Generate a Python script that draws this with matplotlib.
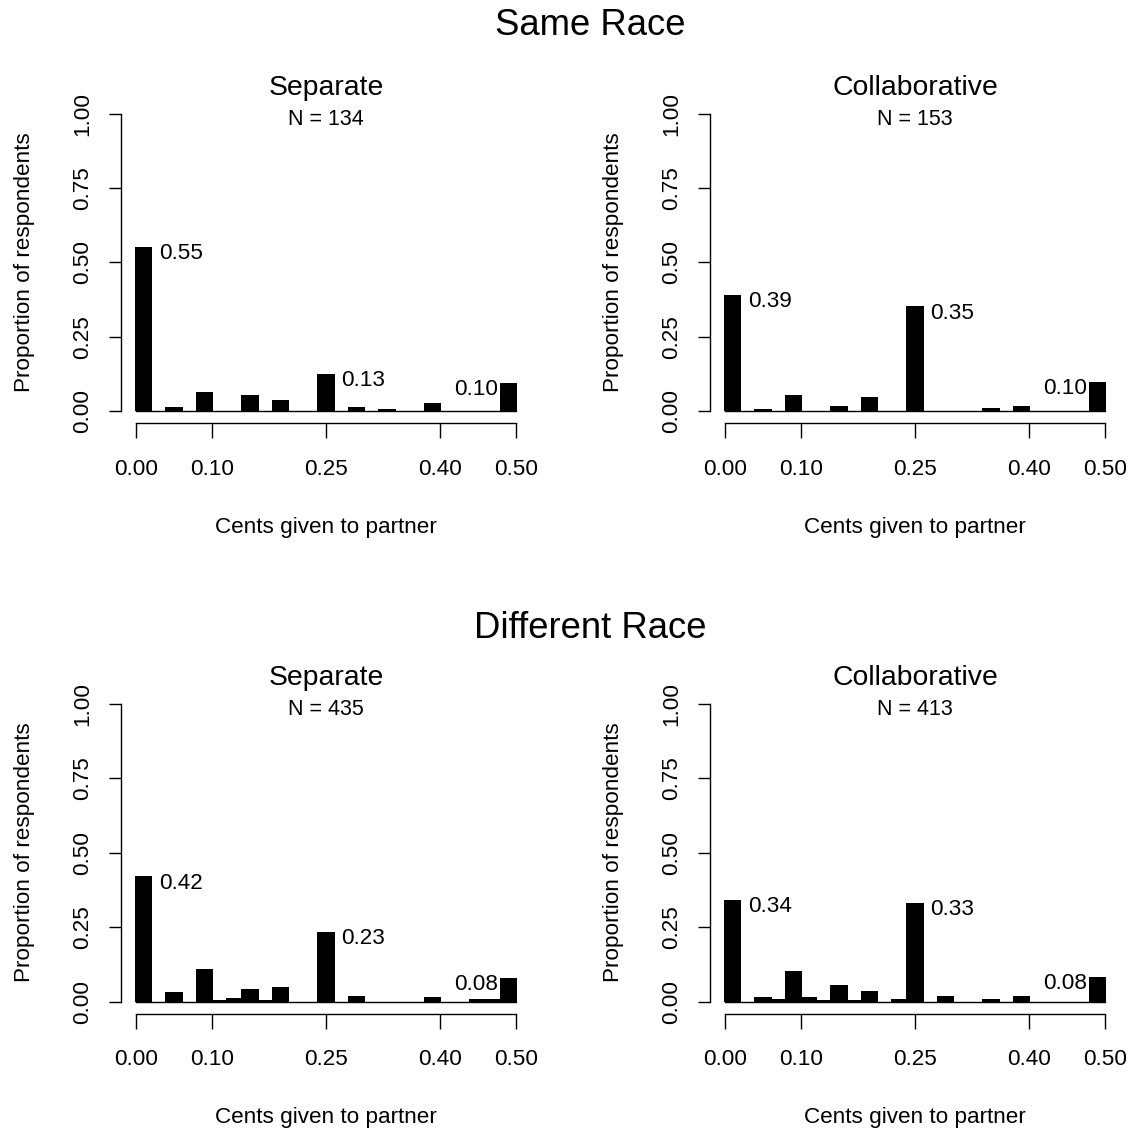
import matplotlib.pyplot as plt

plt.rcParams.update({
    "font.family": ["Liberation Sans", "DejaVu Sans"],
    "font.size": 16.2,
    "axes.linewidth": 1.0,
})

# --- data (cents given -> proportion of respondents) ---
same_sep_x = [0.01, 0.05, 0.09, 0.15, 0.19, 0.25, 0.29, 0.33, 0.39, 0.49]
same_sep_p = [0.552, 0.015, 0.067, 0.056, 0.037, 0.127, 0.015, 0.008, 0.030, 0.097]

same_col_x = [0.01, 0.05, 0.09, 0.15, 0.19, 0.25, 0.35, 0.39, 0.49]
same_col_p = [0.390, 0.007, 0.055, 0.020, 0.050, 0.353, 0.013, 0.020, 0.098]

diff_sep_x = [0.01, 0.05, 0.09, 0.11, 0.13, 0.15, 0.17, 0.19, 0.25, 0.29, 0.39, 0.45, 0.47, 0.49]
diff_sep_p = [0.420, 0.031, 0.108, 0.006, 0.013, 0.042, 0.006, 0.048, 0.234, 0.019, 0.015, 0.007, 0.007, 0.080]

diff_col_x = [0.01, 0.05, 0.07, 0.09, 0.11, 0.13, 0.15, 0.17, 0.19, 0.23, 0.25, 0.29, 0.35, 0.39, 0.49]
diff_col_p = [0.340, 0.015, 0.007, 0.103, 0.014, 0.006, 0.054, 0.006, 0.036, 0.007, 0.330, 0.019, 0.007, 0.019, 0.084]

panel_titles = ["Separate", "Collaborative", "Separate", "Collaborative"]
panel_n = [134, 153, 435, 413]
row_titles = ["Same Race", "Different Race"]

x_ticks = [0.0, 0.10, 0.25, 0.40, 0.50]
y_ticks = [0.0, 0.25, 0.50, 0.75, 1.00]

W, H = 1131, 1134
fig = plt.figure(figsize=(W / 100, H / 100), dpi=100)

# plot regions in pixels (left, right, top, bottom)
cols = [(120.8, 531.2), (709.8, 1120.2)]
rows = [(101.6, 423.4), (691.7, 1013.5)]

panels = [(same_sep_x, same_sep_p), (same_col_x, same_col_p),
          (diff_sep_x, diff_sep_p), (diff_col_x, diff_col_p)]

for i, (xs, ps) in enumerate(panels):
    l, r = cols[i % 2]
    t, b = rows[i // 2]
    ax = fig.add_axes([l / W, 1 - b / H, (r - l) / W, (b - t) / H])

    ax.bar(xs, ps, width=0.023, color="black", linewidth=0)
    ax.plot([0, 0.5], [0, 0], color="black", lw=1.0)

    ax.set_xlim(-0.02, 0.52)
    ax.set_ylim(-0.04, 1.04)
    for s in ["top", "right"]:
        ax.spines[s].set_visible(False)
    ax.spines["left"].set_bounds(0, 1)
    ax.spines["bottom"].set_bounds(0, 0.5)

    ax.set_xticks(x_ticks)
    ax.set_xticklabels([f"{v:.2f}" for v in x_ticks])
    ax.set_yticks(y_ticks)
    ax.set_yticklabels([f"{v:.2f}" for v in y_ticks], rotation=90, va="center")
    ax.tick_params(axis="x", length=11, width=1.0, pad=14.5)
    ax.tick_params(axis="y", length=9, width=1.0, pad=11)

    ax.set_xlabel("Cents given to partner", labelpad=27)
    ax.set_ylabel("Proportion of respondents")
    ax.yaxis.set_label_coords(-0.21, 0.5)

    ax.set_title(panel_titles[i], fontsize=20.4, y=1.02, pad=0)
    ax.text(0.5, 0.927, f"N = {panel_n[i]}", transform=ax.transAxes,
            ha="center", va="baseline", fontsize=15.5)

    # value labels on first bar, the 0.25 bar and the last bar
    for xv, pv in zip(xs, ps):
        if xv in (0.01, 0.25):
            ax.text(xv + 0.0205, pv - 0.041, f"{pv:.2f}", ha="left", va="baseline")
        elif xv == 0.49:
            ax.text(xv - 0.0135, pv - 0.041, f"{pv:.2f}", ha="right", va="baseline")

fig.text(590.7 / W, 1 - 35 / H, row_titles[0], ha="center", va="baseline", fontsize=26.3)
fig.text(590.7 / W, 1 - 638.5 / H, row_titles[1], ha="center", va="baseline", fontsize=26.3)

fig.savefig("out.png", dpi=100)
